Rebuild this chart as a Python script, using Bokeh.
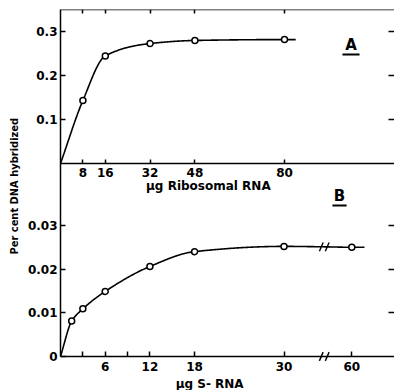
import numpy as np
from bokeh.plotting import figure
from bokeh.models import Range1d, LinearAxis, FixedTicker, Label, Title
from bokeh.embed import file_html
from bokeh.resources import INLINE

# ---- Panel A: ribosomal RNA ----
a_rna = [8, 16, 32, 48, 80]
a_pct = [0.143, 0.244, 0.272, 0.279, 0.281]
a_xticks = [8, 16, 32, 48, 80]
a_yticks = [0.1, 0.2, 0.3]
a_ylabels = ["0.1", "0.2", "0.3"]

# ---- Panel B: S-RNA ----
b_rna = [1.5, 3, 6, 12, 18, 30, 60]
b_pct = [0.0081, 0.0109, 0.0149, 0.0206, 0.0240, 0.0252, 0.0250]
b_xticks = [3, 6, 9, 12, 18, 30, 60]
b_xlabels = ["", "6", "", "12", "18", "30", "60"]
b_yticks = [0, 0.01, 0.02, 0.03]
b_ylabels = ["0", "0.01", "0.02", "0.03"]

# broken x axis in panel B: the span between 30 and 60 is compressed
BREAK_AFTER = 30
BREAK_GAP = 20.9
BREAK_MARK = 35.4


def bpos(v):
    return v if v <= BREAK_AFTER else v - BREAK_GAP


def pchip(x, y, n=300):
    x = np.asarray(x, float)
    y = np.asarray(y, float)
    h = np.diff(x)
    d = np.diff(y) / h
    m = np.zeros_like(y)
    m[0] = d[0]
    m[-1] = d[-1]
    for k in range(1, len(x) - 1):
        if d[k - 1] * d[k] <= 0:
            m[k] = 0.0
        else:
            w1 = 2 * h[k] + h[k - 1]
            w2 = h[k] + 2 * h[k - 1]
            m[k] = (w1 + w2) / (w1 / d[k - 1] + w2 / d[k])
    xs = np.linspace(x[0], x[-1], n)
    idx = np.clip(np.searchsorted(x, xs, side="right") - 1, 0, len(h) - 1)
    t = (xs - x[idx]) / h[idx]
    h00 = 2 * t**3 - 3 * t**2 + 1
    h10 = t**3 - 2 * t**2 + t
    h01 = -2 * t**3 + 3 * t**2
    h11 = t**3 - t**2
    ys = h00 * y[idx] + h10 * h[idx] * m[idx] + h01 * y[idx + 1] + h11 * h[idx] * m[idx + 1]
    return xs, ys


# ranges (one frame holds both panels)
B_X = Range1d(0, 44.83)
B_Y = Range1d(-0.00778, 0.07941)
A_X = Range1d(0, 119.29)
A_Y = Range1d(-0.5147, 0.3492)


def a_to_b(v):
    """Position of an A-scale value on the B scale (shared left axis)."""
    return B_Y.start + (v - A_Y.start) * (B_Y.end - B_Y.start) / (A_Y.end - A_Y.start)


p = figure(width=394, height=390, output_backend="svg", toolbar_location=None,
           x_range=B_X, y_range=B_Y, x_axis_type=None, y_axis_type=None,
           min_border_left=60, min_border_right=0, min_border_top=9,
           min_border_bottom=0)
p.outline_line_color = None
p.extra_x_ranges = {"A": A_X}
p.extra_y_ranges = {"A": A_Y}

FONT = "DejaVu Sans"


def style(ax, tin=5):
    ax.axis_line_width = 1.5
    ax.axis_line_color = "black"
    ax.major_tick_line_width = 1.5
    ax.major_tick_line_color = "black"
    ax.major_tick_in = tin
    ax.major_tick_out = 0
    ax.minor_tick_line_color = None
    ax.major_label_text_font = FONT
    ax.major_label_text_font_style = "bold"
    ax.major_label_text_font_size = "12px"
    ax.major_label_text_color = "black"
    ax.major_label_standoff = 4


# shared left axis: B ticks plus A ticks (mapped onto the B scale)
left_ticks = b_yticks + [a_to_b(v) for v in a_yticks]
left_labels = b_ylabels + a_ylabels
yl = LinearAxis(ticker=FixedTicker(ticks=left_ticks),
                major_label_overrides=dict(zip(left_ticks, left_labels)),
                bounds=(0, B_Y.end))
style(yl)
yl.major_label_standoff = 3
p.add_layout(yl, "left")

# y title, positioned along the left side
p.add_layout(Title(text="Per cent DNA hybridized", align="left", offset=136,
                   standoff=7, text_font="DejaVu Sans Condensed",
                   text_font_style="bold", text_font_size="11px",
                   text_color="black"), "left")

# A bottom axis at A's zero
xa = LinearAxis(x_range_name="A", y_range_name="A", ticker=FixedTicker(ticks=a_xticks),
                fixed_location=0)
style(xa, tin=4)
p.add_layout(xa, "below")

# A top border with ticks
xa_top = LinearAxis(x_range_name="A", y_range_name="A", ticker=FixedTicker(ticks=a_xticks),
                    fixed_location=A_Y.end,
                    major_label_overrides={t: "" for t in a_xticks})
style(xa_top, tin=4)
p.add_layout(xa_top, "above")

# right-hand ticks for A and B
ya_r = LinearAxis(x_range_name="A", y_range_name="A", ticker=FixedTicker(ticks=a_yticks),
                  fixed_location=A_X.end,
                  major_label_overrides={t: "" for t in a_yticks})
style(ya_r, tin=6)
ya_r.axis_line_color = None
p.add_layout(ya_r, "right")

yb_r = LinearAxis(ticker=FixedTicker(ticks=b_yticks[1:]), fixed_location=B_X.end,
                  major_label_overrides={t: "" for t in b_yticks[1:]})
style(yb_r, tin=6)
yb_r.axis_line_color = None
p.add_layout(yb_r, "right")

# B bottom axis (broken) at B's zero
b_tick_pos = [bpos(t) for t in b_xticks]
xb = LinearAxis(ticker=FixedTicker(ticks=b_tick_pos), fixed_location=0,
                major_label_overrides=dict(zip(b_tick_pos, b_xlabels)))
style(xb)
xb.major_label_standoff = 5
p.add_layout(xb, "below")

# ---- curves ----
ax_line = [0] + a_rna + [a_rna[-1] + 4]
ay_line = [0] + a_pct + [a_pct[-1]]
cx, cy = pchip(ax_line, ay_line)
p.line(cx, cy, x_range_name="A", y_range_name="A", line_color="black", line_width=1.6)
p.scatter(a_rna, a_pct, x_range_name="A", y_range_name="A", marker="circle", size=6,
          fill_color="white", line_color="black", line_width=1.5)

b_px = [bpos(v) for v in b_rna]
y_br = (b_pct[-2] + b_pct[-1]) / 2
bx_line = [0] + b_px[:-1] + [BREAK_MARK, b_px[-1], b_px[-1] + 1.7]
by_line = [0] + b_pct[:-1] + [y_br, b_pct[-1], b_pct[-1]]
cx, cy = pchip(bx_line, by_line)
p.line(cx, cy, line_color="black", line_width=1.6)
p.scatter(b_px, b_pct, marker="circle", size=6, fill_color="white",
          line_color="black", line_width=1.5)

# break marks on curve and axis
for yc in (y_br, 0.0):
    p.segment(x0=[BREAK_MARK - 0.65, BREAK_MARK + 0.15], y0=[yc - 0.001] * 2,
              x1=[BREAK_MARK - 0.15, BREAK_MARK + 0.65], y1=[yc + 0.001] * 2,
              line_color="black", line_width=1.4)


# ---- texts ----
def lab(text, x, y, size="12px", xr="default", yr="default", font=FONT):
    p.add_layout(Label(x=x, y=y, text=text, x_range_name=xr, y_range_name=yr,
                       text_font=font, text_font_style="bold", text_font_size=size,
                       text_align="center", text_baseline="middle", text_color="black"))


lab("\u03bcg  Ribosomal  RNA", 54.3, -0.0499, xr="A", yr="A")
lab("\u03bcg  S- RNA", 20.3, -0.0063)
lab("A", 103.75, 0.2687, size="15px", xr="A", yr="A")
lab("B", 37.45, 0.03673, size="15px")
p.segment(x0=[100.7], x1=[106.8], y0=[0.2472], y1=[0.2472], x_range_name="A",
          y_range_name="A", line_color="black", line_width=2)
p.segment(x0=[36.5], x1=[38.4], y0=[0.03455], y1=[0.03455], line_color="black",
          line_width=2)

open("out.html", "w").write(file_html(p, INLINE))
